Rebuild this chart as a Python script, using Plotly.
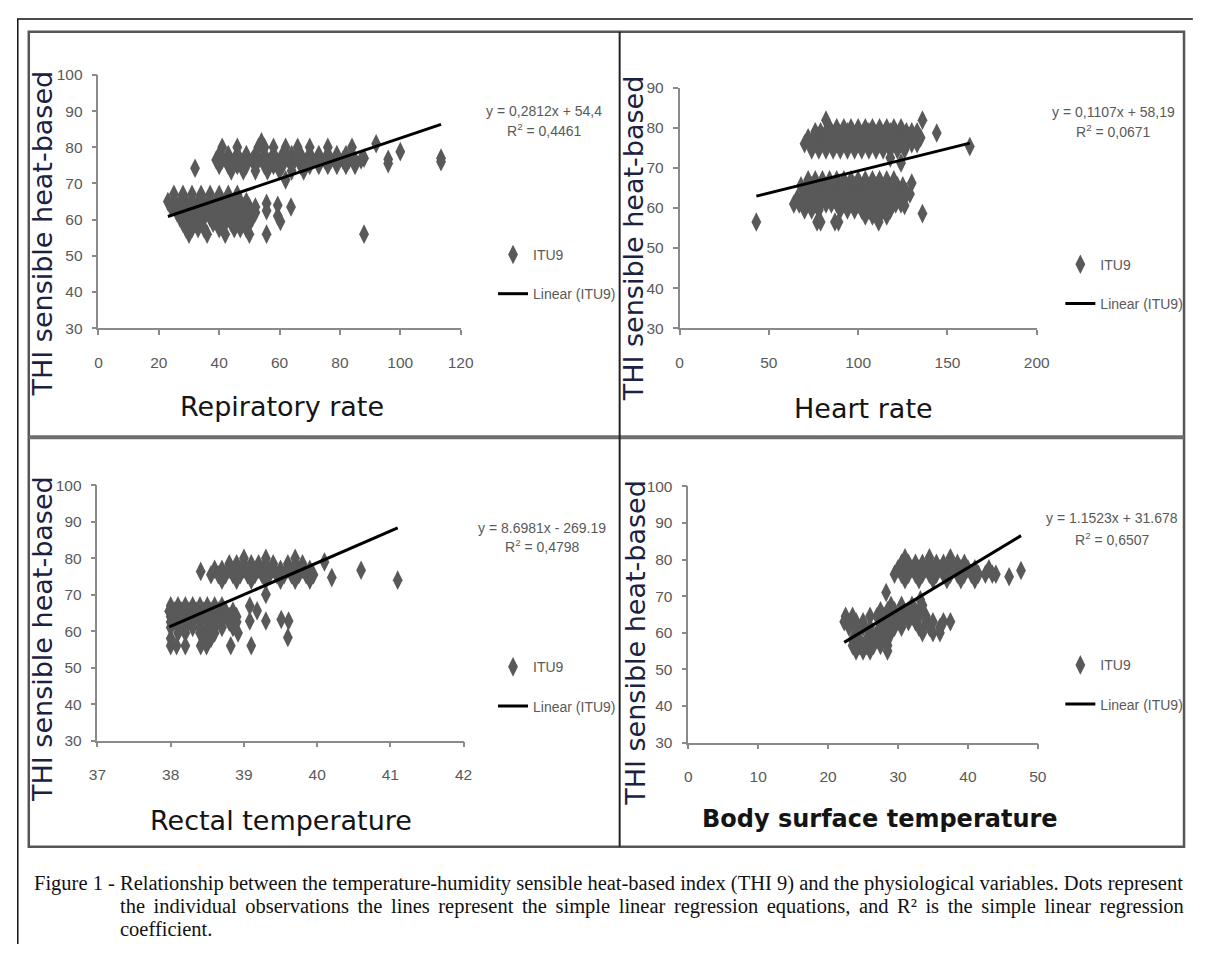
import plotly.graph_objects as go

# page is 1206x956; the body keeps an 8px margin, so the figure sits at (8, 8)
PAGE_W, PAGE_H = 1206, 956
OFF = 8
W, H = PAGE_W - 2 * OFF, PAGE_H - 2 * OFF - 4


def PX(x):
    return (x - OFF) / W


def PY(y):
    return 1 - (y - OFF) / H

# ---------------- data (rows: THI value, list of x observations) ----------------
rr_rows = [
    (81.5, [54]),
    (81.0, [92]),
    (80.0, [41, 46, 53, 55, 58, 62, 66, 70, 76, 84]),
    (78.8, [100]),
    (78.0, [40, 43, 46, 49, 52, 55, 58, 61, 64, 67, 70, 73, 76, 79, 82]),
    (77.0, [88, 113.5]),
    (76.7, [96]),
    (76.5, [39, 41, 43, 45, 47, 49, 51, 53, 55, 57, 59, 61, 63, 65, 67, 69, 71, 73, 75, 77, 79, 81, 83, 85, 87]),
    (76.0, [113.5]),
    (75.5, [96]),
    (75.0, [40, 43, 46, 49, 52, 55, 58, 61, 64, 67, 70, 73, 76, 79, 82, 85]),
    (74.2, [32]),
    (73.5, [44, 48, 52, 56, 60, 64, 68]),
    (71.0, [62]),
    (67.0, [25, 28, 31, 34, 37, 40, 43, 46]),
    (65.0, [23, 25, 27, 29, 31, 33, 35, 37, 39, 41, 43, 45, 47, 49]),
    (64.5, [55.7]),
    (64.0, [59.4]),
    (63.5, [24, 26, 28, 30, 32, 34, 36, 38, 40, 42, 44, 46, 48, 50, 52, 63.8]),
    (62.5, [55.7]),
    (62.0, [26, 28, 30, 32, 34, 36, 38, 40, 42, 44, 46, 48, 50, 52]),
    (61.0, [59.4]),
    (60.5, [27, 29, 31, 33, 35, 37, 39, 41, 43, 45, 47, 49, 51]),
    (59.5, [60.3]),
    (59.0, [28, 30, 32, 34, 38, 42, 44, 46, 48, 50]),
    (57.5, [29, 31, 33, 35, 40, 45, 47, 49]),
    (56.0, [30, 36, 42, 50, 55.7, 88]),
]

hr_rows = [
    (81.9, [82, 136]),
    (80.0, [84, 88, 92, 96, 100, 104, 108, 112, 116, 120, 124]),
    (79.0, [76, 79, 82, 85, 88, 91, 94, 97, 100, 103, 106, 109, 112, 115, 118, 121, 124, 127, 130, 133]),
    (78.7, [144]),
    (77.5, [72, 75, 78, 81, 84, 87, 90, 93, 96, 99, 102, 105, 108, 111, 114, 117, 120, 123, 126, 129, 132, 135]),
    (76.0, [70, 73, 76, 79, 82, 85, 88, 91, 94, 97, 100, 103, 106, 109, 112, 115, 118, 121, 124, 127, 130, 133]),
    (75.3, [162.5]),
    (74.5, [74, 78, 82, 86, 90, 94, 98, 102, 106, 110, 114, 118, 122, 126]),
    (72.5, [118]),
    (71.2, [124]),
    (67.0, [72, 76, 80, 84, 88, 92, 96, 100, 104, 108, 112, 116, 120]),
    (66.2, [130]),
    (65.5, [68, 71, 74, 77, 80, 83, 86, 89, 92, 95, 98, 101, 104, 107, 110, 113, 116, 119, 122, 125]),
    (64.0, [70, 73, 76, 79, 82, 85, 88, 91, 94, 97, 100, 103, 106, 109, 112, 115, 118, 121, 124, 127]),
    (63.5, [129]),
    (62.5, [66, 69, 72, 75, 78, 81, 84, 87, 90, 93, 96, 99, 102, 105, 108, 111, 114, 117, 120, 123, 126]),
    (61.0, [64, 67, 70, 73, 76, 79, 82, 85, 88, 91, 94, 97, 100, 103, 106, 109, 112, 115, 118, 121, 124]),
    (60.6, [126]),
    (59.5, [70, 74, 78, 90, 94, 98, 102, 106, 110, 114, 118]),
    (58.6, [136]),
    (58.0, [104, 108, 112, 116]),
    (56.5, [43, 77, 79, 87, 89, 111.5]),
]

rt_rows = [
    (80.0, [39.0, 39.3, 39.7]),
    (79.0, [40.1]),
    (78.5, [38.8, 38.9, 39.0, 39.1, 39.2, 39.3, 39.4, 39.6, 39.7, 39.8]),
    (77.0, [38.6, 38.7, 38.8, 38.9, 39.0, 39.1, 39.2, 39.3, 39.4, 39.5, 39.6, 39.7, 39.8, 39.9]),
    (76.7, [40.6]),
    (76.4, [38.41]),
    (75.5, [38.55, 38.65, 38.75, 38.85, 38.95, 39.05, 39.15, 39.25, 39.35, 39.45, 39.55, 39.65, 39.75, 39.85, 39.95]),
    (74.7, [40.2]),
    (74.0, [38.7, 38.9, 39.1, 39.3, 39.5, 39.7, 39.9, 41.1]),
    (70.1, [39.3]),
    (67.0, [38.0, 38.1, 38.2, 38.3, 38.4, 38.5, 38.6, 38.7]),
    (66.9, [39.08]),
    (65.6, [39.18]),
    (65.5, [37.98, 38.05, 38.15, 38.25, 38.35, 38.45, 38.55, 38.65, 38.75, 38.85]),
    (64.0, [38.0, 38.1, 38.2, 38.3, 38.4, 38.5, 38.6, 38.7, 38.8, 38.9]),
    (63.2, [39.51]),
    (62.8, [39.08, 39.3, 39.61]),
    (62.5, [38.0, 38.1, 38.2, 38.3, 38.4, 38.5, 38.6, 38.7, 38.8, 38.9]),
    (61.0, [38.0, 38.1, 38.2, 38.3, 38.4, 38.5, 38.6, 38.7, 38.85]),
    (59.5, [38.1, 38.2, 38.4, 38.5, 38.6, 38.92]),
    (58.3, [39.6]),
    (58.0, [38.0, 38.45, 38.55]),
    (56.0, [38.0, 38.08, 38.2, 38.41, 38.49, 38.82, 39.1]),
]

bst_rows = [
    (80.5, [31, 34.5, 37.5]),
    (79.0, [30.5, 31.5, 32.5, 33.5, 34.5, 35.5, 36.5, 37.5, 38.5, 39.5]),
    (77.5, [30, 31, 32, 33, 34, 35, 36, 37, 38, 39, 40, 41, 43]),
    (77.0, [47.6]),
    (76.0, [29.5, 30.5, 31.5, 32.5, 33.5, 34.5, 35.5, 36.5, 37.5, 38.5, 39.5, 40.5, 41.5, 42.5, 43.5, 44]),
    (75.3, [45.9]),
    (74.5, [31, 33, 35, 37, 39, 41]),
    (71.0, [28.3]),
    (69.0, [33.2]),
    (67.5, [29, 30.5, 32, 33.5]),
    (66.0, [27.5, 28.5, 29.5, 30.5, 31.5, 32.5, 33]),
    (64.5, [22.5, 23.5, 26, 27, 28, 29, 30, 31, 32, 33, 34]),
    (63.0, [22.3, 23.2, 24, 25, 28.5, 29.5, 30.5, 31.5, 32.5, 34, 35, 36.5, 37.5]),
    (61.5, [23, 24, 25, 26, 27.5, 28.5, 29.5, 30.5, 33, 34.5, 36]),
    (60.0, [24, 26, 27, 28, 29, 33.5, 35, 36]),
    (58.0, [23.5, 24.5, 25.5, 26.5, 27.5, 28.5]),
    (56.5, [23.5, 24.5, 25.5, 26.5, 27.5, 28.5]),
    (55.0, [24, 25, 26, 28.5]),
]

x_titles = ["Repiratory rate", "Heart rate", "Rectal temperature", "Body surface temperature"]
y_title = "THI sensible heat-based"
slopes = [0.2812, 0.1107, 8.6981, 1.1523]
intercepts = [54.4, 58.19, -269.19, 31.678]
eq_texts = ["y = 0,2812x + 54,4", "y = 0,1107x + 58,19", "y = 8.6981x - 269.19", "y = 1.1523x + 31.678"]
r2_texts = ["0,4461", "0,0671", "0,4798", "0,6507"]
x_ranges = [[0, 120], [0, 200], [37, 42], [0, 50]]
x_dticks = [20, 50, 1, 10]
y_ranges = [[30, 100], [30, 90], [30, 100], [30, 100]]
caption_1a = "Figure 1 -"
caption_1b = "Relationship between the temperature-humidity sensible heat-based index (THI 9) and the physiological variables. Dots represent"
caption_2 = "the individual observations the lines represent the simple linear regression equations, and R² is the simple linear regression"
caption_3 = "coefficient."


def expand(rows):
    xs, ys = [], []
    for yv, xl in rows:
        for xv in xl:
            xs.append(xv)
            ys.append(yv)
    return xs, ys


panels = [expand(rr_rows), expand(hr_rows), expand(rt_rows), expand(bst_rows)]

# ---------------- layout geometry (page pixels) ----------------
xdom_px = [(91, 460), (683, 1047), (90, 463), (692, 1048)]
ydom_px = [(67, 325), (80, 325), (485, 745), (486, 747)]
eq_pos = [(545, 104, 123), (1125, 105, 124), (543, 528, 547), (1124, 518, 540)]
ytitle_pos = [(34, 229), (637, 233), (34, 642), (638, 645)]
xtitle_pos = [(278, 405), (870, 407), (277, 826), (887, 825)]
legend_pos = [(493, 234), (1071, 244), (493, 654), (1071, 652)]

GRAY = "#595959"
AX = "#8a8a8a"
SANS = "Liberation Sans, Arial, sans-serif"
TITLE_COLOR = "#1b2140"

fig = go.Figure()
layout = dict(
    width=W, height=H, autosize=False, margin=dict(l=0, r=0, t=0, b=0, pad=0),
    paper_bgcolor="white", plot_bgcolor="white", showlegend=True,
)
annotations = []
for i in range(4):
    k = "" if i == 0 else str(i + 1)
    xs, ys = panels[i]
    lg = "legend" if i == 0 else "legend" + str(i + 1)
    fig.add_trace(go.Scatter(
        x=xs, y=ys, mode="markers", name="ITU9", xaxis="x" + k, yaxis="y" + k,
        marker=dict(symbol="diamond-tall", size=14, color=GRAY, line=dict(width=0)),
        legend=lg, legendgroup="pts" + k, cliponaxis=False,
    ))
    x0, x1 = min(xs), max(xs)
    fig.add_trace(go.Scatter(
        x=[x0, x1], y=[slopes[i] * x0 + intercepts[i], slopes[i] * x1 + intercepts[i]],
        mode="lines", name="Linear (ITU9)", xaxis="x" + k, yaxis="y" + k,
        line=dict(color="black", width=3), legend=lg, legendgroup="lin" + k,
    ))
    xr, yr = x_ranges[i], y_ranges[i]
    layout["xaxis" + k] = dict(
        domain=[PX(xdom_px[i][0]), PX(xdom_px[i][1])], range=xr, anchor="y" + k,
        tickmode="linear", tick0=xr[0], dtick=x_dticks[i],
        showline=True, linecolor=AX, linewidth=1.5, ticks="outside", ticklen=5,
        tickcolor=AX, tickwidth=1.5, showgrid=False, zeroline=False, fixedrange=True,
        tickfont=dict(family=SANS, size=15.5, color=GRAY), ticklabelstandoff=14,
    )
    layout["yaxis" + k] = dict(
        domain=[PY(ydom_px[i][1]), PY(ydom_px[i][0])], range=yr, anchor="x" + k,
        tickmode="linear", tick0=30, dtick=10,
        showline=True, linecolor=AX, linewidth=1.5, ticks="outside", ticklen=5,
        tickcolor=AX, tickwidth=1.5, showgrid=False, zeroline=False, fixedrange=True,
        tickfont=dict(family=SANS, size=15.5, color=GRAY), ticklabelstandoff=6,
    )
    layout[lg] = dict(
        x=PX(legend_pos[i][0]), y=PY(legend_pos[i][1]), xanchor="left", yanchor="top",
        bgcolor="rgba(0,0,0,0)", font=dict(family=SANS, size=14, color=GRAY),
        tracegroupgap=18, traceorder="grouped", itemwidth=30,
    )
    ex, ey1, ey2 = eq_pos[i]
    annotations.append(dict(x=PX(ex), y=PY(ey1), xref="paper", yref="paper", text=eq_texts[i],
                            showarrow=False, xanchor="center", yanchor="middle",
                            font=dict(family=SANS, size=14, color=GRAY)))
    annotations.append(dict(x=PX(ex), y=PY(ey2), xref="paper", yref="paper",
                            text="R<sup>2</sup> = " + r2_texts[i],
                            showarrow=False, xanchor="center", yanchor="middle",
                            font=dict(family=SANS, size=14, color=GRAY)))
    tx, ty = ytitle_pos[i]
    annotations.append(dict(x=PX(tx), y=PY(ty), xref="paper", yref="paper", text=y_title,
                            textangle=-90, showarrow=False, xanchor="center", yanchor="middle",
                            font=dict(family="DejaVu Sans, Verdana, sans-serif", size=27, color=TITLE_COLOR)))
    qx, qy = xtitle_pos[i]
    xt = "<b>" + x_titles[i] + "</b>" if i == 3 else x_titles[i]
    annotations.append(dict(x=PX(qx), y=PY(qy), xref="paper", yref="paper", text=xt,
                            showarrow=False, xanchor="center", yanchor="middle",
                            font=dict(family="DejaVu Sans, Verdana, sans-serif",
                                      size=24 if i == 3 else 27, color="#141414")))

SERIF = "Liberation Serif, Times New Roman, serif"
# line 2 of the caption is justified in the reference: widen its word gaps slightly
caption_2_just = caption_2.replace(" ", " \u2006")
for txt, x, y in [(caption_1a, 23, 891), (caption_1b, 111, 891), (caption_2_just, 111, 914), (caption_3, 111, 937)]:
    annotations.append(dict(x=PX(x), y=PY(y), xref="paper", yref="paper", text=txt, showarrow=False,
                            xanchor="left", yanchor="middle",
                            font=dict(family=SERIF, size=20.5, color="#111111")))

shapes = [
    dict(type="line", xref="paper", yref="paper", x0=PX(8.8), x1=PX(8.8), y0=PY(10), y1=PY(956),
         line=dict(color="#111111", width=1.5)),
    dict(type="line", xref="paper", yref="paper", x0=PX(8), x1=PX(1206), y0=PY(10), y1=PY(10),
         line=dict(color="#111111", width=1.5)),
    dict(type="rect", xref="paper", yref="paper", x0=PX(20), x1=PX(1197), y0=PY(853), y1=PY(23),
         line=dict(color="#555555", width=2.5)),
    dict(type="line", xref="paper", yref="paper", x0=PX(20), x1=PX(1197), y0=PY(436), y1=PY(436),
         line=dict(color="#6e6e6e", width=4)),
    dict(type="line", xref="paper", yref="paper", x0=PX(622), x1=PX(622), y0=PY(23), y1=PY(853),
         line=dict(color="#222222", width=2)),
]

layout["annotations"] = annotations
layout["shapes"] = shapes
fig.update_layout(**layout)

fig.write_html("out.html", config={"displayModeBar": False})
